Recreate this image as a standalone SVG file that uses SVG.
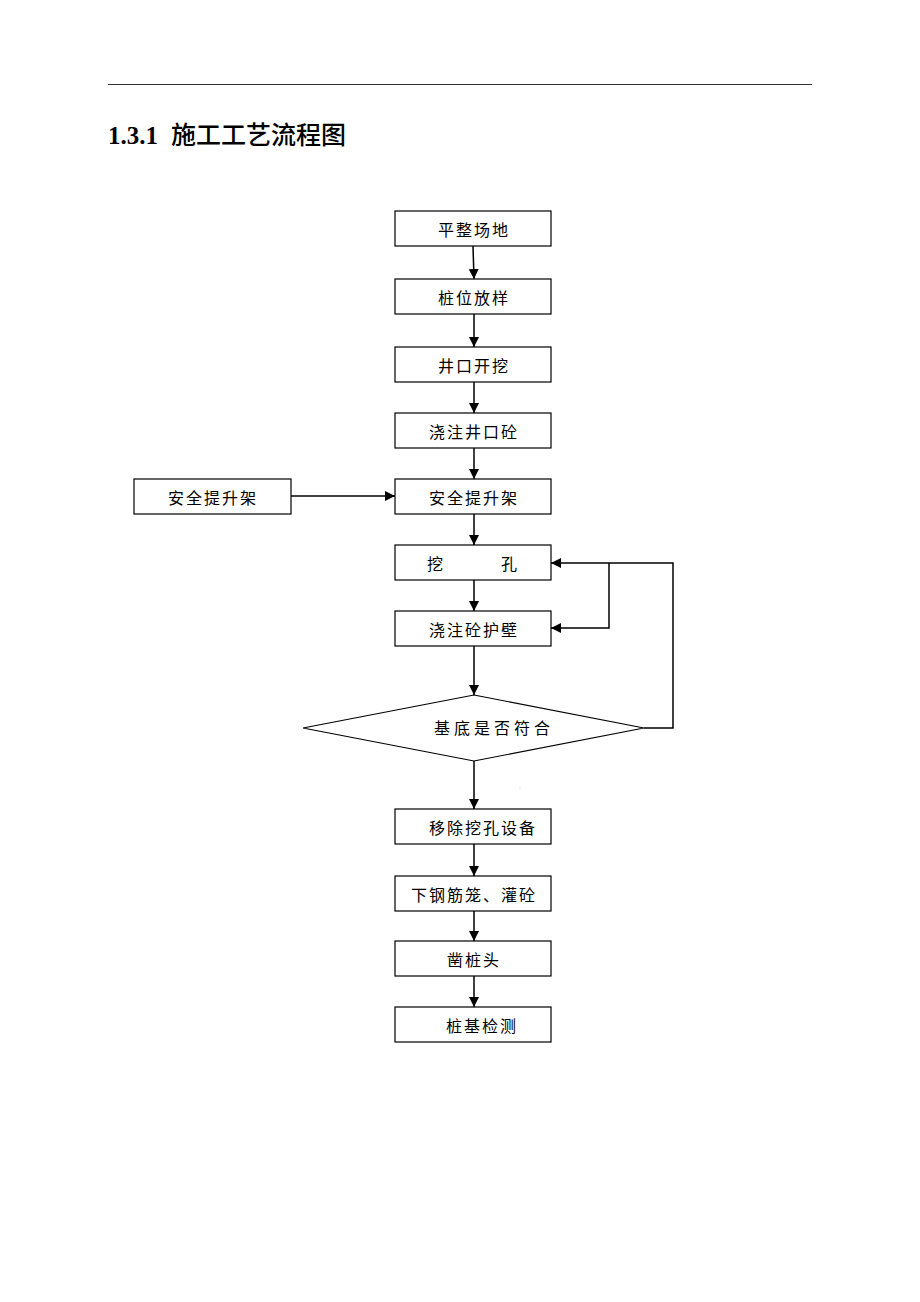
<svg xmlns="http://www.w3.org/2000/svg" width="920" height="1302" viewBox="0 0 920 1302">
<style>
.box{fill:#fff;stroke:#000;stroke-width:1.2}
.lbl{font-family:"Liberation Serif","Noto Sans CJK SC",serif;font-size:16px;fill:#000;text-anchor:middle;letter-spacing:2px}
.ln{fill:none;stroke:#000;stroke-width:1.5}
</style>
<defs>
<marker id="ah" viewBox="0 0 10 10" refX="10" refY="5" markerWidth="10" markerHeight="10" markerUnits="userSpaceOnUse" orient="auto">
<path d="M0,0 L10,5 L0,10 Z" fill="#000"/>
</marker>
</defs>
<rect width="920" height="1302" fill="#fff"/>
<line x1="108" y1="84.5" x2="812" y2="84.5" stroke="#333" stroke-width="1.2"/>
<text x="108" y="144" font-family="Liberation Serif,'Noto Sans CJK SC',serif" font-size="25" font-weight="bold">1.3.1</text>
<text x="171" y="144" font-family="'Noto Sans CJK SC',sans-serif" font-size="25" font-weight="500">施工工艺流程图</text>

<g id="n1"><rect class="box" x="395" y="211" width="156" height="35"/><text class="lbl" x="474" y="236">平整场地</text></g>
<g id="n2"><rect class="box" x="395" y="279" width="156" height="35"/><text class="lbl" x="474" y="304">桩位放样</text></g>
<g id="n3"><rect class="box" x="395" y="347" width="156" height="35"/><text class="lbl" x="474" y="372">井口开挖</text></g>
<g id="n4"><rect class="box" x="395" y="413" width="156" height="35"/><text class="lbl" x="474" y="438">浇注井口砼</text></g>
<g id="n5"><rect class="box" x="395" y="479" width="156" height="35"/><text class="lbl" x="474" y="504">安全提升架</text></g>
<g id="n5b"><rect class="box" x="134" y="479" width="157" height="35"/><text class="lbl" x="213" y="504">安全提升架</text></g>
<g id="n6"><rect class="box" x="395" y="545" width="156" height="35"/><text class="lbl" x="436" y="570">挖</text><text class="lbl" x="510" y="570">孔</text></g>
<g id="n7"><rect class="box" x="395" y="611" width="156" height="35"/><text class="lbl" x="474" y="636">浇注砼护壁</text></g>
<g id="n8"><polygon class="box" points="474,695 644,728 474,761 303,728"/><text class="lbl" x="494" y="734" style="letter-spacing:4px">基底是否符合</text></g>
<text x="519" y="790" font-family="Liberation Sans,sans-serif" font-size="6" fill="#888">:</text>
<g id="n9"><rect class="box" x="395" y="809" width="156" height="35"/><text class="lbl" x="483" y="834">移除挖孔设备</text></g>
<g id="n10"><rect class="box" x="395" y="876" width="156" height="35"/><text class="lbl" x="474" y="901">下钢筋笼、灌砼</text></g>
<g id="n11"><rect class="box" x="395" y="941" width="156" height="35"/><text class="lbl" x="474" y="966">凿桩头</text></g>
<g id="n12"><rect class="box" x="395" y="1007" width="156" height="35"/><text class="lbl" x="482" y="1032">桩基检测</text></g>

<g id="connectors">
<line class="ln" x1="473" y1="246" x2="474" y2="279" marker-end="url(#ah)"/>
<line class="ln" x1="474" y1="314" x2="474" y2="347" marker-end="url(#ah)"/>
<line class="ln" x1="474" y1="382" x2="474" y2="413" marker-end="url(#ah)"/>
<line class="ln" x1="474" y1="448" x2="474" y2="479" marker-end="url(#ah)"/>
<line class="ln" x1="291" y1="496" x2="395" y2="496" marker-end="url(#ah)"/>
<line class="ln" x1="474" y1="514" x2="474" y2="545" marker-end="url(#ah)"/>
<line class="ln" x1="474" y1="580" x2="474" y2="611" marker-end="url(#ah)"/>
<line class="ln" x1="474" y1="646" x2="474" y2="695" marker-end="url(#ah)"/>
<polyline class="ln" points="644,728 673,728 673,563 551,563" marker-end="url(#ah)"/>
<polyline class="ln" points="609,563 609,628 551,628" marker-end="url(#ah)"/>
<line class="ln" x1="474" y1="761" x2="474" y2="809" marker-end="url(#ah)"/>
<line class="ln" x1="474" y1="844" x2="474" y2="876" marker-end="url(#ah)"/>
<line class="ln" x1="474" y1="911" x2="474" y2="941" marker-end="url(#ah)"/>
<line class="ln" x1="474" y1="976" x2="474" y2="1007" marker-end="url(#ah)"/>
</g>
</svg>
